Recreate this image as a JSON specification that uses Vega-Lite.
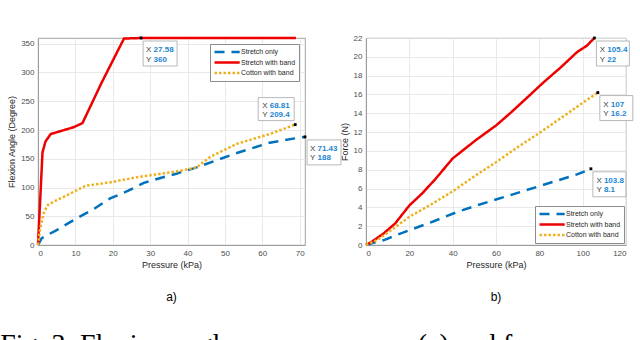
{
  "$schema": "https://vega.github.io/schema/vega-lite/v6.json",
  "padding": {"left": 0, "top": 32, "right": 0, "bottom": 0},
  "bounds": "flush",
  "spacing": 61,
  "background": "white",
  "title": {"text": "Fig. 3: Flexion angle versus pressure (a) and force versus", "orient": "bottom", "anchor": "start", "font": "Liberation Serif", "fontSize": 27.9, "fontWeight": "normal", "color": "#000000", "offset": 28, "dx": -7},
  "config": {
    "font": "Liberation Sans",
    "view": {"stroke": "#8c8c8c", "strokeWidth": 0.8},
    "axis": {"labelFontSize": 8, "labelColor": "#4d4d4d", "titleFontSize": 9, "titleFontWeight": "normal", "titleColor": "#262626", "gridColor": "#e3e3e3", "gridWidth": 0.8, "domainColor": "#8c8c8c", "domainWidth": 0.8, "ticks": false, "labelPadding": 4, "labelOverlap": false},
    "axisY": {"titlePadding": 4},
    "axisX": {"titlePadding": 3}
  },
  "datasets": {
    "angle": [
      {"series": "Stretch only", "pressure": 0, "angle": 0},
      {"series": "Stretch only", "pressure": 1, "angle": 12},
      {"series": "Stretch only", "pressure": 5, "angle": 26},
      {"series": "Stretch only", "pressure": 10, "angle": 45},
      {"series": "Stretch only", "pressure": 15, "angle": 63},
      {"series": "Stretch only", "pressure": 19.3, "angle": 81},
      {"series": "Stretch only", "pressure": 24, "angle": 94},
      {"series": "Stretch only", "pressure": 28.3, "angle": 108},
      {"series": "Stretch only", "pressure": 33, "angle": 117},
      {"series": "Stretch only", "pressure": 37, "angle": 124},
      {"series": "Stretch only", "pressure": 42.5, "angle": 135},
      {"series": "Stretch only", "pressure": 48, "angle": 148},
      {"series": "Stretch only", "pressure": 53.2, "angle": 160},
      {"series": "Stretch only", "pressure": 62, "angle": 178},
      {"series": "Stretch only", "pressure": 68.3, "angle": 185},
      {"series": "Stretch only", "pressure": 71.43, "angle": 188},
      {"series": "Stretch with band", "pressure": 0, "angle": 0},
      {"series": "Stretch with band", "pressure": 1.2, "angle": 161},
      {"series": "Stretch with band", "pressure": 2, "angle": 180},
      {"series": "Stretch with band", "pressure": 3.4, "angle": 193},
      {"series": "Stretch with band", "pressure": 6, "angle": 198},
      {"series": "Stretch with band", "pressure": 9.6, "angle": 205},
      {"series": "Stretch with band", "pressure": 11.9, "angle": 212},
      {"series": "Stretch with band", "pressure": 17, "angle": 282},
      {"series": "Stretch with band", "pressure": 23, "angle": 359},
      {"series": "Stretch with band", "pressure": 27.58, "angle": 360},
      {"series": "Stretch with band", "pressure": 69, "angle": 360},
      {"series": "Cotton with band", "pressure": 0, "angle": 0},
      {"series": "Cotton with band", "pressure": 0.5, "angle": 25},
      {"series": "Cotton with band", "pressure": 1.5, "angle": 55},
      {"series": "Cotton with band", "pressure": 2.5, "angle": 69},
      {"series": "Cotton with band", "pressure": 5, "angle": 78},
      {"series": "Cotton with band", "pressure": 7, "angle": 84},
      {"series": "Cotton with band", "pressure": 10, "angle": 94},
      {"series": "Cotton with band", "pressure": 12.7, "angle": 103},
      {"series": "Cotton with band", "pressure": 15, "angle": 105},
      {"series": "Cotton with band", "pressure": 19.4, "angle": 109},
      {"series": "Cotton with band", "pressure": 26.5, "angle": 118},
      {"series": "Cotton with band", "pressure": 32, "angle": 123},
      {"series": "Cotton with band", "pressure": 38, "angle": 129},
      {"series": "Cotton with band", "pressure": 42.5, "angle": 135},
      {"series": "Cotton with band", "pressure": 46, "angle": 153},
      {"series": "Cotton with band", "pressure": 53.2, "angle": 176},
      {"series": "Cotton with band", "pressure": 62, "angle": 193},
      {"series": "Cotton with band", "pressure": 68.81, "angle": 209.4}
    ],
    "tipsA": [
      {"pressure": 27.58, "angle": 360, "tip": "27.58\n360", "pos": "rb"},
      {"pressure": 68.81, "angle": 209.4, "tip": "68.81\n209.4", "pos": "la"},
      {"pressure": 71.43, "angle": 188, "tip": "71.43\n188", "pos": "rb"}
    ],
    "force": [
      {"series": "Stretch only", "pressure": 0, "force": 0},
      {"series": "Stretch only", "pressure": 3, "force": 0.2},
      {"series": "Stretch only", "pressure": 8, "force": 0.5},
      {"series": "Stretch only", "pressure": 18, "force": 1.4},
      {"series": "Stretch only", "pressure": 31, "force": 2.5},
      {"series": "Stretch only", "pressure": 42, "force": 3.5},
      {"series": "Stretch only", "pressure": 51, "force": 4.2},
      {"series": "Stretch only", "pressure": 66.6, "force": 5.3},
      {"series": "Stretch only", "pressure": 82, "force": 6.4},
      {"series": "Stretch only", "pressure": 97.4, "force": 7.5},
      {"series": "Stretch only", "pressure": 103.8, "force": 8.1},
      {"series": "Stretch with band", "pressure": 0, "force": 0},
      {"series": "Stretch with band", "pressure": 3, "force": 0.4},
      {"series": "Stretch with band", "pressure": 8, "force": 1.2},
      {"series": "Stretch with band", "pressure": 13.5, "force": 2.3},
      {"series": "Stretch with band", "pressure": 20, "force": 4.2},
      {"series": "Stretch with band", "pressure": 26, "force": 5.5},
      {"series": "Stretch with band", "pressure": 32, "force": 7},
      {"series": "Stretch with band", "pressure": 40, "force": 9.2},
      {"series": "Stretch with band", "pressure": 51, "force": 11.2},
      {"series": "Stretch with band", "pressure": 60, "force": 12.7},
      {"series": "Stretch with band", "pressure": 67, "force": 14.1},
      {"series": "Stretch with band", "pressure": 75, "force": 15.8},
      {"series": "Stretch with band", "pressure": 82, "force": 17.3},
      {"series": "Stretch with band", "pressure": 90, "force": 18.9},
      {"series": "Stretch with band", "pressure": 97.4, "force": 20.5},
      {"series": "Stretch with band", "pressure": 102, "force": 21.2},
      {"series": "Stretch with band", "pressure": 105.4, "force": 22},
      {"series": "Cotton with band", "pressure": 0, "force": 0},
      {"series": "Cotton with band", "pressure": 5, "force": 0.5},
      {"series": "Cotton with band", "pressure": 10, "force": 1.3},
      {"series": "Cotton with band", "pressure": 20, "force": 3.0},
      {"series": "Cotton with band", "pressure": 30, "force": 4.3},
      {"series": "Cotton with band", "pressure": 40, "force": 5.7},
      {"series": "Cotton with band", "pressure": 50, "force": 7.3},
      {"series": "Cotton with band", "pressure": 60, "force": 8.8},
      {"series": "Cotton with band", "pressure": 70, "force": 10.4},
      {"series": "Cotton with band", "pressure": 80, "force": 11.9},
      {"series": "Cotton with band", "pressure": 90, "force": 13.5},
      {"series": "Cotton with band", "pressure": 100, "force": 15.1},
      {"series": "Cotton with band", "pressure": 107, "force": 16.2}
    ],
    "tipsB": [
      {"pressure": 105.4, "force": 22, "tip": "105.4\n22"},
      {"pressure": 107, "force": 16.2, "tip": "107\n16.2"},
      {"pressure": 103.8, "force": 8.1, "tip": "103.8\n8.1"}
    ]
  },
  "resolve": {
    "scale": {"x": "independent", "y": "independent", "color": "independent", "strokeDash": "independent"},
    "legend": {"color": "independent", "strokeDash": "independent"}
  },
  "hconcat": [
    {
      "width": 267,
      "height": 207,
      "title": {"text": "a)", "orient": "bottom", "fontSize": 12, "fontWeight": "normal", "color": "#000000", "offset": 23},
      "encoding": {
        "x": {"field": "pressure", "type": "quantitative", "scale": {"domain": [0, 71.43], "nice": false}, "axis": {"title": "Pressure (kPa)", "values": [0, 10, 20, 30, 40, 50, 60, 70]}},
        "y": {"field": "angle", "type": "quantitative", "scale": {"domain": [0, 360], "nice": false}, "axis": {"title": "Flexion Angle (Degree)", "values": [0, 50, 100, 150, 200, 250, 300, 350]}}
      },
      "layer": [
        {
          "data": {"name": "angle"},
          "mark": {"type": "line", "strokeWidth": 2.5},
          "encoding": {
            "color": {"field": "series", "type": "nominal", "scale": {"domain": ["Stretch only", "Stretch with band", "Cotton with band"], "range": ["#0072BD", "#ee0000", "#EDB120"]},
              "legend": {"title": null, "orient": "top-right", "offset": 6, "fillColor": "white", "strokeColor": "#8c8c8c", "padding": 3, "labelFontSize": 7, "labelColor": "#262626", "symbolType": "M-1,0H6.2", "symbolSize": 49, "symbolStrokeWidth": 2.5, "labelOffset": 18, "rowPadding": 0.5}},
            "strokeDash": {"field": "series", "type": "nominal", "scale": {"domain": ["Stretch only", "Stretch with band", "Cotton with band"], "range": [[10, 7], [1, 0], [2.5, 2]]},
              "legend": {"title": null, "orient": "top-right", "offset": 6, "fillColor": "white", "strokeColor": "#8c8c8c", "padding": 3, "labelFontSize": 7, "labelColor": "#262626", "symbolType": "M-1,0H6.2", "symbolSize": 49, "symbolStrokeWidth": 2.5, "labelOffset": 18, "rowPadding": 0.5}}
          }
        },
        {
          "data": {"name": "tipsA"},
          "transform": [{"filter": "datum.pos == 'rb'"}],
          "mark": {"type": "rect", "fill": "white", "stroke": "#a6a6a6", "strokeWidth": 0.8, "xOffset": 2, "x2Offset": 36, "yOffset": 3, "y2Offset": 28},
          "encoding": {"x2": {"field": "pressure"}, "y2": {"field": "angle"}}
        },
        {
          "data": {"name": "tipsA"},
          "transform": [{"filter": "datum.pos == 'la'"}],
          "mark": {"type": "rect", "fill": "white", "stroke": "#a6a6a6", "strokeWidth": 0.8, "xOffset": -37, "x2Offset": -1, "yOffset": -27, "y2Offset": -4},
          "encoding": {"x2": {"field": "pressure"}, "y2": {"field": "angle"}}
        },
        {
          "data": {"name": "tipsA"},
          "transform": [{"filter": "datum.pos == 'rb'"}],
          "mark": {"type": "text", "text": "X\nY", "lineBreak": "\n", "align": "left", "baseline": "alphabetic", "dx": 5, "dy": 14, "lineHeight": 9.5, "fontSize": 8, "color": "#404040"},
          "encoding": {}
        },
        {
          "data": {"name": "tipsA"},
          "transform": [{"filter": "datum.pos == 'rb'"}],
          "mark": {"type": "text", "lineBreak": "\n", "align": "left", "baseline": "alphabetic", "dx": 12.5, "dy": 14, "lineHeight": 9.5, "fontSize": 8, "fontWeight": "bold", "color": "#1c86d1"},
          "encoding": {"text": {"field": "tip", "type": "nominal"}}
        },
        {
          "data": {"name": "tipsA"},
          "transform": [{"filter": "datum.pos == 'la'"}],
          "mark": {"type": "text", "text": "X\nY", "lineBreak": "\n", "align": "left", "baseline": "alphabetic", "dx": -33, "dy": -17, "lineHeight": 9.5, "fontSize": 8, "color": "#404040"},
          "encoding": {}
        },
        {
          "data": {"name": "tipsA"},
          "transform": [{"filter": "datum.pos == 'la'"}],
          "mark": {"type": "text", "lineBreak": "\n", "align": "left", "baseline": "alphabetic", "dx": -25.5, "dy": -17, "lineHeight": 9.5, "fontSize": 8, "fontWeight": "bold", "color": "#1c86d1"},
          "encoding": {"text": {"field": "tip", "type": "nominal"}}
        },
        {
          "data": {"name": "tipsA"},
          "mark": {"type": "square", "size": 8, "color": "#000000", "filled": true, "opacity": 1},
          "encoding": {}
        }
      ]
    },
    {
      "width": 260,
      "height": 207,
      "title": {"text": "b)", "orient": "bottom", "fontSize": 12, "fontWeight": "normal", "color": "#000000", "offset": 23},
      "encoding": {
        "x": {"field": "pressure", "type": "quantitative", "scale": {"domain": [0, 120], "nice": false}, "axis": {"title": "Pressure (kPa)", "values": [0, 20, 40, 60, 80, 100, 120]}},
        "y": {"field": "force", "type": "quantitative", "scale": {"domain": [0, 22], "nice": false}, "axis": {"title": "Force (N)", "values": [0, 2, 4, 6, 8, 10, 12, 14, 16, 18, 20, 22]}}
      },
      "layer": [
        {
          "data": {"name": "force"},
          "mark": {"type": "line", "strokeWidth": 2.5},
          "encoding": {
            "color": {"field": "series", "type": "nominal", "scale": {"domain": ["Stretch only", "Stretch with band", "Cotton with band"], "range": ["#0072BD", "#ee0000", "#EDB120"]},
              "legend": {"title": null, "orient": "bottom-right", "offset": 2, "fillColor": "white", "strokeColor": "#8c8c8c", "padding": 3, "labelFontSize": 7, "labelColor": "#262626", "symbolType": "M-1,0H6.2", "symbolSize": 49, "symbolStrokeWidth": 2.5, "labelOffset": 18, "rowPadding": 0.5}},
            "strokeDash": {"field": "series", "type": "nominal", "scale": {"domain": ["Stretch only", "Stretch with band", "Cotton with band"], "range": [[10, 7], [1, 0], [2.5, 2]]},
              "legend": {"title": null, "orient": "bottom-right", "offset": 2, "fillColor": "white", "strokeColor": "#8c8c8c", "padding": 3, "labelFontSize": 7, "labelColor": "#262626", "symbolType": "M-1,0H6.2", "symbolSize": 49, "symbolStrokeWidth": 2.5, "labelOffset": 18, "rowPadding": 0.5}}
          }
        },
        {
          "data": {"name": "tipsB"},
          "mark": {"type": "rect", "fill": "white", "stroke": "#a6a6a6", "strokeWidth": 0.8, "xOffset": 2, "x2Offset": 35, "yOffset": 3, "y2Offset": 28},
          "encoding": {"x2": {"field": "pressure"}, "y2": {"field": "force"}}
        },
        {
          "data": {"name": "tipsB"},
          "mark": {"type": "text", "text": "X\nY", "lineBreak": "\n", "align": "left", "baseline": "alphabetic", "dx": 5.5, "dy": 14, "lineHeight": 9.5, "fontSize": 8, "color": "#404040"},
          "encoding": {}
        },
        {
          "data": {"name": "tipsB"},
          "mark": {"type": "text", "lineBreak": "\n", "align": "left", "baseline": "alphabetic", "dx": 13, "dy": 14, "lineHeight": 9.5, "fontSize": 8, "fontWeight": "bold", "color": "#1c86d1"},
          "encoding": {"text": {"field": "tip", "type": "nominal"}}
        },
        {
          "data": {"name": "tipsB"},
          "mark": {"type": "square", "size": 8, "color": "#000000", "filled": true, "opacity": 1},
          "encoding": {}
        }
      ]
    }
  ]
}
